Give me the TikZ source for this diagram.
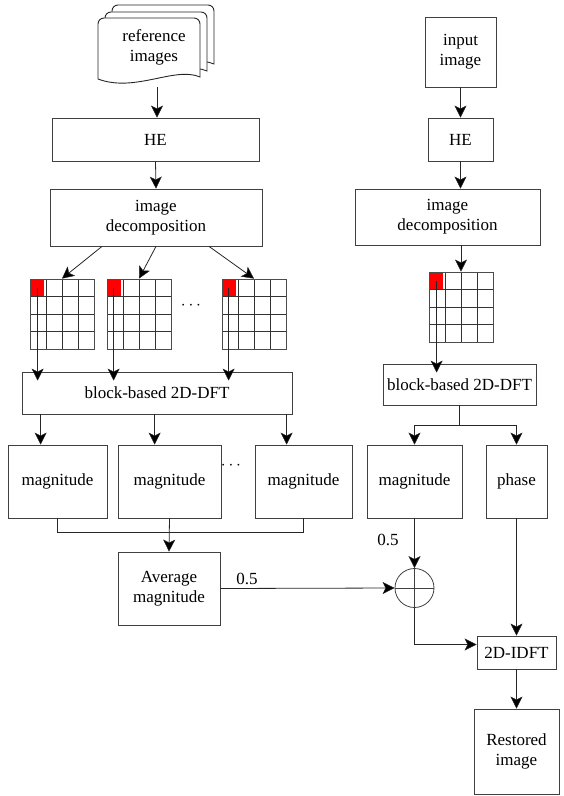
\documentclass[tikz,border=0pt]{standalone}
\usepackage{fontspec}
\setmainfont{Liberation Serif}
\usetikzlibrary{arrows.meta}

\tikzset{
  box/.style={draw=black!75, line width=0.8pt, fill=white, inner sep=0pt,
              align=center, font=\fontsize{17}{20}\selectfont},
  tip/.tip={Stealth[length=12pt,width=12pt,inset=3pt,line width=0.4pt,fill=black]},
  arr/.style={draw=black!85, line width=0.8pt, -tip},
  conn/.style={draw=black!85, line width=0.8pt},
  lbl/.style={inner sep=0pt, font=\fontsize{17}{20}\selectfont},
  page/.style={draw=black!85, line width=0.9pt, fill=white},
  blockgrid/.style={draw=black!70, line width=0.8pt, inner sep=0pt,
    minimum width=64pt, minimum height=70pt,
    path picture={
      \fill[red] ([shift={(1,1)}]path picture bounding box.north west)
                 rectangle ++(13,17);
      \foreach \k in {1,2,3}{
        \draw[black!80, line width=0.7pt]
          ([xshift=\k*16pt]path picture bounding box.north west) --
          ([xshift=\k*16pt]path picture bounding box.south west);
        \draw[black!80, line width=0.7pt]
          ([yshift=-\k*17.5pt]path picture bounding box.north west) --
          ([yshift=-\k*17.5pt]path picture bounding box.north east);
      }
    }},
}

\begin{document}
\begin{tikzpicture}[x=1pt,y=-1pt]
\useasboundingbox (0,0) rectangle (563,796);

% stack of reference images (document shape, three sheets)
\foreach \dx/\dy in {14/-13, 7/-6, 0/0}{
  \begin{scope}[shift={(\dx,\dy)}]
    \draw[page] (98,79) -- (98,24) arc[start angle=180, end angle=270, radius=6]
      -- (194,18) arc[start angle=270, end angle=360, radius=6] -- (200,77)
      .. controls (175,66) and (135,93) .. (98,79) -- cycle;
  \end{scope}
}
\node[lbl, align=center] (refimg) at (154,47) {reference\\images};
\coordinate (docbot) at (157,87);

% left branch
\node[box, minimum width=207pt, minimum height=43pt] (he1) at (155.5,139.5) {HE};
\node[box, minimum width=212pt, minimum height=57pt] (dec1) at (156,217.5) {image\\decomposition};

\node[blockgrid] (g1) at (62,314) {};
\node[blockgrid] (g2) at (139,314) {};
\node[blockgrid] (g3) at (254,314) {};
\node[lbl] (gdots) at (191,306) {$\cdots$};

\node[box, minimum width=270pt, minimum height=42pt] (dft1) at (157,393) {block-based 2D-DFT};

\node[box, minimum width=99pt, minimum height=73pt] (mag1) at (57.5,481.5) {magnitude};
\node[box, minimum width=103pt, minimum height=73pt] (mag2) at (169.5,481.5) {magnitude};
\node[box, minimum width=97pt, minimum height=73pt] (mag3) at (303.5,481.5) {magnitude};
\node[lbl] (mdots) at (231,466) {$\cdots$};

\node[box, minimum width=102pt, minimum height=73pt] (avg) at (169,588.5) {Average\\magnitude};

% right branch
\node[box, minimum width=71pt, minimum height=70pt] (in1) at (460.5,52) {input\\image};
\node[box, minimum width=65pt, minimum height=43pt] (he2) at (460.5,139.5) {HE};
\node[box, minimum width=185pt, minimum height=56pt] (dec2) at (447.5,217) {image\\decomposition};
\node[blockgrid] (g4) at (461,307) {};
\node[box, minimum width=153pt, minimum height=41pt] (dft2) at (459.5,384.5) {block-based 2D-DFT};
\node[box, minimum width=95pt, minimum height=73pt] (mag4) at (414.5,481.5) {magnitude};
\node[box, minimum width=61pt, minimum height=73pt] (phase) at (516.5,481.5) {phase};

\node[draw=black!75, line width=0.8pt, circle, minimum size=39pt, inner sep=0pt] (sum) at (414.5,588) {};
\draw[conn, black!75] (sum.north) -- (sum.south) (sum.west) -- (sum.east);

\node[box, minimum width=79pt, minimum height=33pt] (idft) at (516.5,652.5) {2D-IDFT};
\node[box, minimum width=85pt, minimum height=85pt] (rest) at (516.5,751.5) {Restored\\image};

\node[lbl] (w1) at (247,579) {0.5};
\node[lbl] (w2) at (388,540) {0.5};

% connectors, left branch
\draw[arr] (docbot) -- (docbot |- he1.north);
\draw[arr] (he1.south) -- (dec1.north);
\draw[arr] ([xshift=-54pt]dec1.south) -- (g1.north);
\draw[arr] (dec1.south) -- (g2.north);
\draw[arr] ([xshift=53pt]dec1.south) -- (g3.north);
\draw[arr] ([shift={(8pt,-9pt)}]g1.north west) -- ([shift={(8pt,-9pt)}]g1.north west |- dft1.north);
\draw[arr] ([shift={(7pt,-9pt)}]g2.north west) -- ([shift={(7pt,-9pt)}]g2.north west |- dft1.north);
\draw[arr] ([shift={(7pt,-9pt)}]g3.north west) -- ([shift={(7pt,-9pt)}]g3.north west |- dft1.north);
\draw[arr] ([xshift=19pt]dft1.south west) -- ([xshift=19pt]dft1.south west |- mag1.north);
\draw[arr] ([xshift=133pt]dft1.south west) -- ([xshift=133pt]dft1.south west |- mag2.north);
\draw[arr] ([xshift=265pt]dft1.south west) -- ([xshift=265pt]dft1.south west |- mag3.north);
\draw[conn] (mag1.south) -- ++(0,14) -| (mag3.south);
\draw[arr] (mag2.south) -- (avg.north);
\draw[arr] (avg.east) -- (sum.west);

% connectors, right branch
\draw[arr] (in1.south) -- (he2.north);
\draw[arr] (he2.south) -- (he2.south |- dec2.north);
\draw[arr] (g4.north |- dec2.south) -- (g4.north);
\draw[arr] ([shift={(8pt,-9pt)}]g4.north west) -- ([shift={(8pt,-9pt)}]g4.north west |- dft2.north);
\draw[conn] (dft2.south) -- ++(0,20) coordinate (split);
\draw[arr] (split) -| (mag4.north);
\draw[arr] (split) -| (phase.north);
\draw[arr] (mag4.south) -- (sum.north);
\draw[arr] (sum.south) |- ([yshift=8pt]idft.west);
\draw[arr] (phase.south) -- (idft.north);
\draw[arr] (idft.south) -- (rest.north);
\end{tikzpicture}
\end{document}
